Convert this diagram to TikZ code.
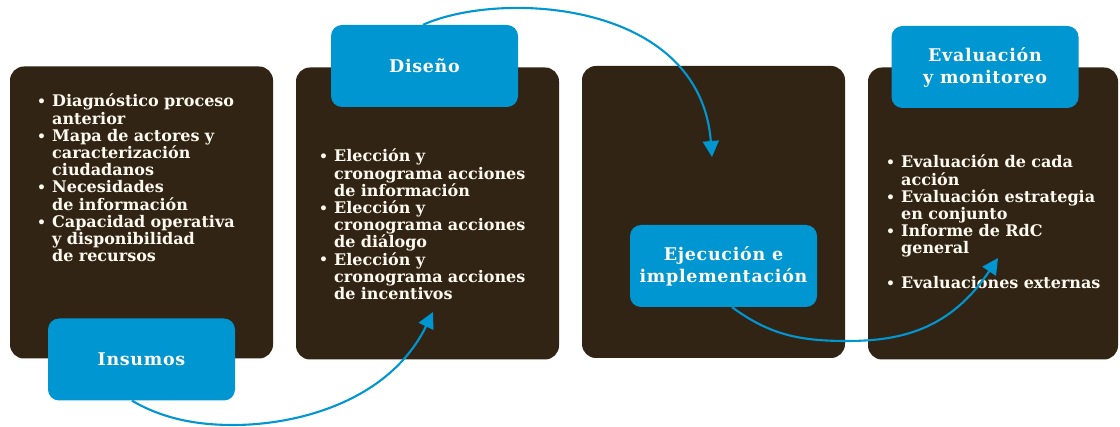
\documentclass[tikz,border=0pt]{standalone}
\usepackage{fontspec}
\setmainfont{DejaVu Serif}
\newfontfamily\ttlfont[LetterSpace=4]{DejaVu Serif}
\usetikzlibrary{arrows.meta}
\definecolor{dark}{RGB}{50,36,20}
\definecolor{cblue}{RGB}{0,150,210}
\definecolor{txt}{RGB}{255,250,240}
\newcommand{\bul}{\makebox[15pt][l]{\raisebox{0.3pt}{\fontsize{14}{14}\selectfont\textbullet}}}
\newcommand{\ind}{\hspace*{15pt}}
\begin{document}
\begin{tikzpicture}[x=1pt,y=-1pt,
  panel/.style={fill=dark, rounded corners=14pt, minimum width=263pt, minimum height=292pt, inner sep=0pt},
  tag/.style={fill=cblue, rounded corners=11pt, minimum width=187pt, minimum height=82pt, inner sep=0pt,
    text=txt, font=\ttlfont\bfseries\fontsize{17.5}{22}\selectfont, align=center},
  lst/.style={text=txt, font=\bfseries\fontsize{16}{17.2}\selectfont, text width=240pt, align=left,
    inner sep=0pt, anchor=base west},
  flow/.style={cblue, line width=2.1pt, -{Triangle[length=16pt,width=16pt]}}]
\useasboundingbox (0,0) rectangle (1120,427);
\fill[white] (0,0) rectangle (1120,427);
% panels
\node[panel] (p1) at (141.5,212.5) {};
\node[panel] (p2) at (427.5,213.5) {};
\node[panel] (p3) at (713.5,212) {};
\node[panel, minimum width=250pt] (p4) at (993,213.5) {};
% lists
\node[lst] (l1) at (37,107) {\bul Diagnóstico proceso\\\ind anterior\\\bul Mapa de actores y\\\ind caracterización\\\ind ciudadanos\\\bul Necesidades\\\ind de información\\\bul Capacidad operativa\\\ind y disponibilidad\\\ind de recursos};
\node[lst] (l2) at (319,162) {\bul Elección y\\\ind cronograma acciones\\\ind de información\\\bul Elección y\\\ind cronograma acciones\\\ind de diálogo\\\bul Elección y\\\ind cronograma acciones\\\ind de incentivos};
\node[lst] (l4) at (886,168) {\bul Evaluación de cada\\\ind acción\\\bul Evaluación estrategia\\\ind en conjunto\\\bul Informe de RdC\\\ind general\\[17.2pt]\bul Evaluaciones externas};
% tags
\node[tag] (ins) at (141.5,359.5) {Insumos};
\node[tag] (dis) at (424.5,66) {Diseño};
\node[tag] (eje) at (723.5,266) {Ejecución e\\implementación};
\node[tag] (eva) at (985,67) {Evaluación\\y monitoreo};
% arrow targets
\coordinate (t1) at (433,312);
\coordinate (t2) at (712,157);
\coordinate (t3) at (998,258);
\draw[flow] ([xshift=-9.5pt]ins.south) .. controls (165,420) and (200,425) .. (233,425)
  .. controls (300,425) and (390,400) .. (t1);
\draw[flow] ([xshift=-1.5pt]dis.north) .. controls (500,-10) and (700,0) .. (t2);
\draw[flow] ([xshift=8.5pt]eje.south) .. controls (770,335) and (800,341) .. (847,341)
  .. controls (900,341) and (950,330) .. (t3);
\end{tikzpicture}
\end{document}
